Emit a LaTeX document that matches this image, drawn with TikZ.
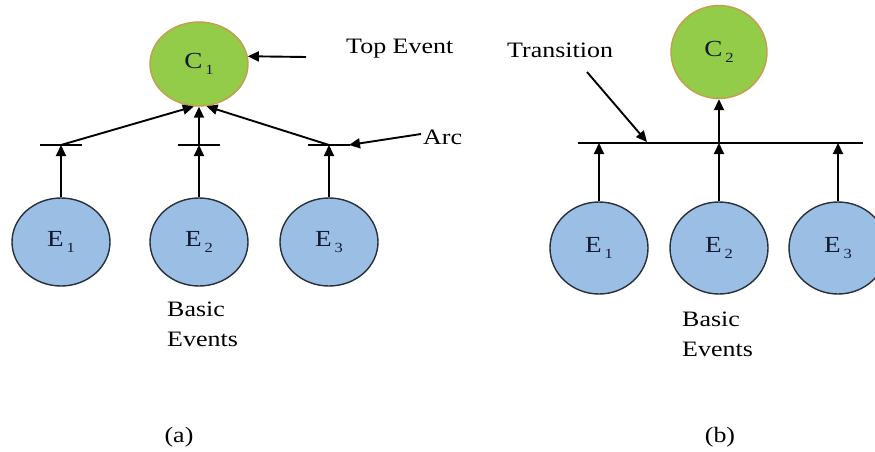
\documentclass[tikz,border=0pt]{standalone}
\usepackage{fontspec}
\setmainfont[FakeStretch=1.18]{Liberation Serif}
\usetikzlibrary{shapes.geometric,arrows.meta,calc}
\definecolor{evblue}{RGB}{155,190,228}
\definecolor{evedge}{RGB}{40,48,60}
\definecolor{topgreen}{RGB}{146,204,72}
\definecolor{topedge}{RGB}{200,155,80}
\definecolor{labnavy}{RGB}{20,25,50}
\newcommand{\evsub}[2]{#1\kern3pt\raisebox{-6pt}{\fontsize{14}{14}\selectfont #2}}
\begin{document}
\begin{tikzpicture}[x=1pt,y=-1pt,
  evnode/.style={ellipse, line width=1.4pt, inner sep=0pt,
    font=\fontsize{23}{26}\selectfont, text=labnavy},
  basicev/.style={evnode, draw=evedge, fill=evblue, minimum width=98pt, minimum height=88pt},
  topev/.style={evnode, draw=topedge, fill=topgreen},
  conn/.style={line width=1.9pt, -{Triangle[length=11pt,width=10pt]}},
  barline/.style={line width=1.5pt},
  lab/.style={font=\fontsize{22}{30}\selectfont, inner sep=0pt, text=black}
]
\useasboundingbox[fill=white] (0,0) rectangle (875,452);

% ---------- (a) ----------
\node[topev, minimum width=98pt, minimum height=84pt] (C1) at (199,64) {\evsub{C}{1}};
\node[basicev] (E1) at (61,242) {\evsub{E}{1}};
\node[basicev] (E2) at (199,242) {\evsub{E}{2}};
\node[basicev] (E3) at (329,242) {\evsub{E}{3}};

\coordinate (t1) at (61,145);
\coordinate (t2) at (199,145);
\coordinate (t3) at (329,145);
\foreach \t in {t1,t2,t3}
  \draw[barline] ($(\t)+(-21,0)$) -- ($(\t)+(21,0)$);

\draw[conn] (E1.north) -- (t1);
\draw[conn] (E2.north) -- (t2);
\draw[conn] (E3.north) -- (t3);
\draw[conn] (t1) -- (C1.-97);
\draw[conn] (t2) -- (C1.south);
\draw[conn] (t3) -- (C1.-80);

\coordinate (topfrom) at (306,57);
\draw[conn] (topfrom) -- (C1.9);
\node[lab, anchor=base west] (toplab) at (346,54) {Top Event};

\coordinate (arcfrom) at (421,134);
\coordinate (arcto) at (349,145);
\draw[conn] (arcfrom) -- (arcto);
\node[lab, anchor=base west] (arclab) at (423,144) {Arc};

\node[lab, anchor=north west, align=left] (basa) at (167,302) {Basic\\Events};
\node[lab] (capa) at (179,437) {(a)};

% ---------- (b) ----------
\node[topev, minimum width=96pt, minimum height=93pt] (C2) at (719,52) {\evsub{C}{2}};
\node[basicev, minimum height=92pt] (F1) at (599,248) {\evsub{E}{1}};
\node[basicev, minimum height=92pt] (F2) at (719,248) {\evsub{E}{2}};
\node[basicev, minimum height=92pt] (F3) at (838,248) {\evsub{E}{3}};

\coordinate (tl) at (578,143);
\coordinate (tr) at (863,143);
\draw[barline] (tl) -- (tr);
\coordinate (u1) at (599,143);
\coordinate (u2) at (719,143);
\coordinate (u3) at (838,143);
\draw[conn] (F1.north) -- (u1);
\draw[conn] (F2.north) -- (u2);
\draw[conn] (F3.north) -- (u3);
\draw[conn] (u2) -- (C2.south);

\node[lab, anchor=base west] (translab) at (507,57) {Transition};
\coordinate (trfrom) at (587,72);
\coordinate (trto) at (647,142);
\draw[conn] (trfrom) -- (trto);

\node[lab, anchor=north west, align=left] (basb) at (682,312) {Basic\\Events};
\node[lab] (capb) at (720,437) {(b)};
\end{tikzpicture}
\end{document}
